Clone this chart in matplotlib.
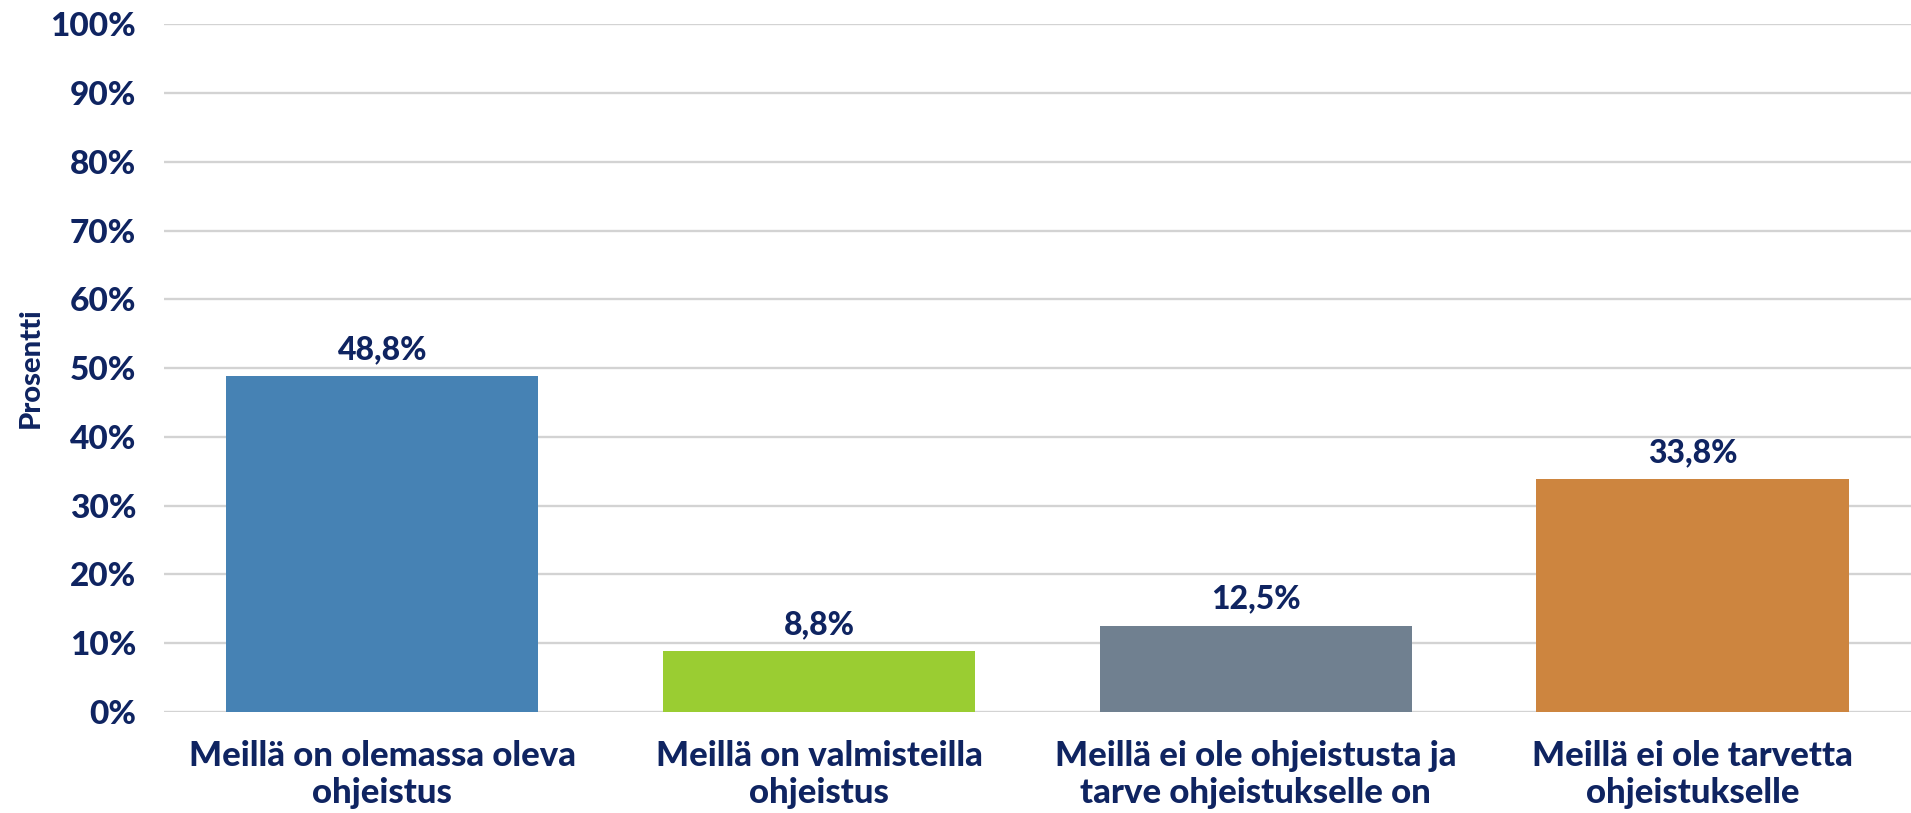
import matplotlib
matplotlib.use("Agg")
import matplotlib.pyplot as plt
from matplotlib.ticker import FuncFormatter

categories = [
    "Meillä on olemassa oleva\nohjeistus",
    "Meillä on valmisteilla\nohjeistus",
    "Meillä ei ole ohjeistusta ja\ntarve ohjeistukselle on",
    "Meillä ei ole tarvetta\nohjeistukselle",
]
values = [0.488, 0.088, 0.125, 0.338]
value_labels = ["48,8%", "8,8%", "12,5%", "33,8%"]
bar_colors = ["#4682B4", "#9ACD32", "#708090", "#CD853F"]
y_ticks = [0, 0.1, 0.2, 0.3, 0.4, 0.5, 0.6, 0.7, 0.8, 0.9, 1.0]
y_label = "Prosentti"

text_color = "#0f2461"
W = 'black'
plt.rcParams['font.family'] = ['Lato', 'DejaVu Sans']

fig = plt.figure(figsize=(19.11, 8.13), dpi=100)
ax = fig.add_axes([0.0858, 0.1245, 0.9142, 0.8455])

x = list(range(len(categories)))
ax.bar(x, values, width=0.715, color=bar_colors, zorder=3)
for xi, v, lab in zip(x, values, value_labels):
    ax.annotate(lab, (xi, v), xytext=(0, 9), textcoords='offset points',
                ha='center', va='bottom', fontsize=23, fontweight=W,
                color=text_color)

ax.set_xlim(-0.5, 3.5)
ax.set_ylim(0, 1.0)
ax.set_yticks(y_ticks)
ax.yaxis.set_major_formatter(FuncFormatter(lambda v, p: f"{v*100:.0f}%"))
ax.set_xticks(x)
ax.set_xticklabels(categories, fontsize=25, fontweight=W, color=text_color,
                   linespacing=1.2)
ax.tick_params(axis='y', length=0, pad=20, labelsize=24, labelcolor=text_color)
ax.tick_params(axis='x', length=0, pad=20.5)
for lbl in ax.get_yticklabels():
    lbl.set_fontweight(W)

ax.grid(axis='y', color='#d3d3d3', linewidth=1.7, zorder=0)
ax.set_axisbelow(True)
for s in ax.spines.values():
    s.set_visible(False)

ax.set_ylabel(y_label, fontsize=21, fontweight=W, color=text_color)
ax.yaxis.set_label_coords(-0.069, 0.5)

fig.savefig("out.png", dpi=100)
